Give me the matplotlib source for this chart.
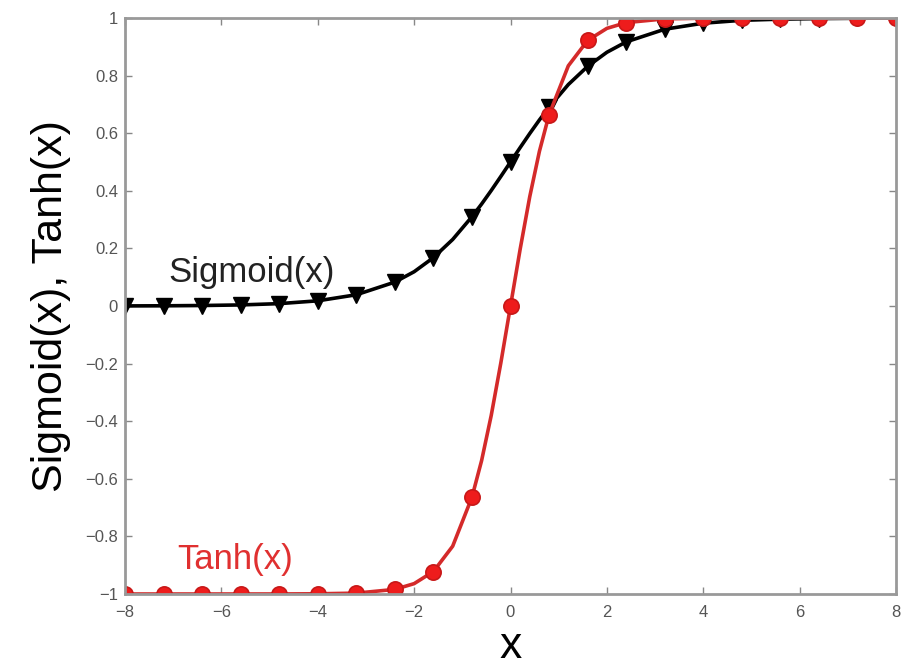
import matplotlib
matplotlib.use("Agg")
import matplotlib.pyplot as plt

# x positions along the curves (denser near the steep part)
x_vals = [-8.0, -7.2, -6.4, -5.6, -4.8, -4.0, -3.2, -2.4, -2.0, -1.6, -1.2,
          -0.8, -0.6, -0.4, -0.2, 0.0, 0.2, 0.4, 0.6, 0.8, 1.2, 1.6, 2.0,
          2.4, 3.2, 4.0, 4.8, 5.6, 6.4, 7.2, 8.0]

sigmoid_vals = [0.0003, 0.0007, 0.0017, 0.0037, 0.0082, 0.018, 0.039, 0.083,
                0.119, 0.168, 0.231, 0.310, 0.354, 0.401, 0.450, 0.500, 0.550,
                0.599, 0.646, 0.690, 0.769, 0.832, 0.881, 0.917, 0.961, 0.982,
                0.992, 0.996, 0.998, 0.999, 1.000]

tanh_vals = [-1.000, -1.000, -1.000, -1.000, -0.9999, -0.9993, -0.997, -0.984,
             -0.964, -0.922, -0.834, -0.664, -0.537, -0.380, -0.197, 0.000,
             0.197, 0.380, 0.537, 0.664, 0.834, 0.922, 0.964, 0.984, 0.997,
             0.9993, 0.9999, 1.000, 1.000, 1.000, 1.000]

x_ticks = [-8, -6, -4, -2, 0, 2, 4, 6, 8]
y_ticks = [-1, -0.8, -0.6, -0.4, -0.2, 0, 0.2, 0.4, 0.6, 0.8, 1]

# markers only every 0.8
marks = [i for i, v in enumerate(x_vals) if abs(v / 0.8 - round(v / 0.8)) < 1e-9]


def fmt(t):
    return '%g' % t if t >= 0 else '\u2212%g' % -t


plt.rcParams['font.family'] = ['Liberation Sans', 'DejaVu Sans']

fig = plt.figure(figsize=(9.11, 6.65), dpi=100)
ax = fig.add_axes([125 / 911, 1 - 594 / 665, 771 / 911, 576 / 665])

ax.plot(x_vals, sigmoid_vals, color='black', lw=2.6, marker='v', ms=11,
        markevery=marks, mfc='black', mec='black')
ax.plot(x_vals, tanh_vals, color='#d42a2a', lw=2.6, marker='o', ms=11,
        markevery=marks, mfc='#ee1c1c', mec='#c81818', mew=1.2)

ax.text(-7.1, 0.085, 'Sigmoid(x)', fontsize=25, color='#222222')
ax.text(-6.92, -0.913, 'Tanh(x)', fontsize=25, color='#e03030')

ax.set_xlim(-8, 8)
ax.set_ylim(-1, 1)
ax.set_xticks(x_ticks)
ax.set_yticks(y_ticks)
ax.set_xticklabels([fmt(t) for t in x_ticks])
ax.set_yticklabels([fmt(t) for t in y_ticks])
ax.tick_params(direction='in', length=5, width=1, colors='#888888',
               labelcolor='#555555', labelsize=12, top=True, right=True)
ax.tick_params(axis='x', pad=8)
ax.tick_params(axis='y', pad=5)
for s in ax.spines.values():
    s.set_color('#999999')
    s.set_linewidth(2)

ax.set_xlabel('x', fontsize=32, labelpad=4)
ax.set_ylabel('Sigmoid(x), Tanh(x)', fontsize=31, labelpad=10)

fig.savefig('out.png', dpi=100)
